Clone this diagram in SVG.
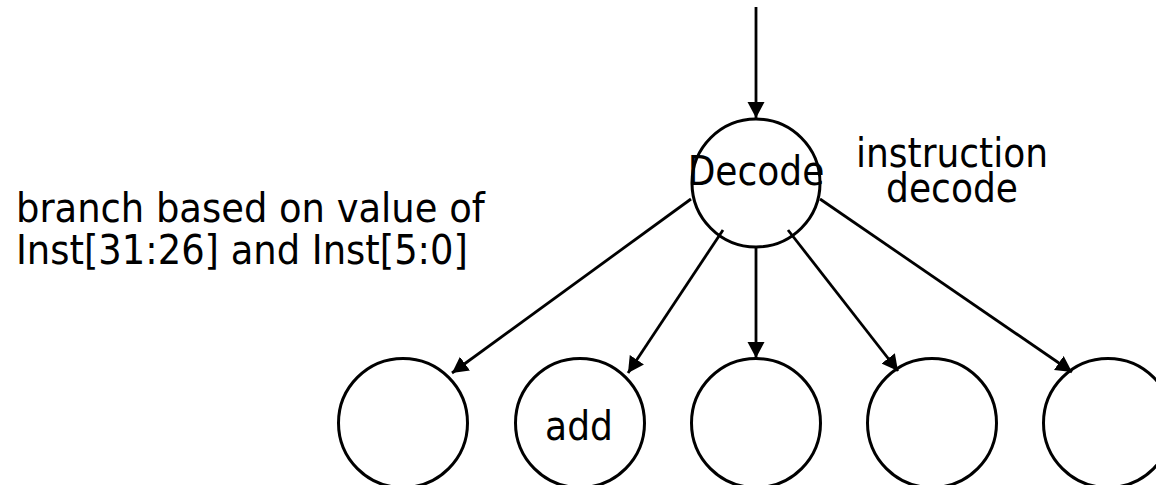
<svg xmlns="http://www.w3.org/2000/svg" width="1156" height="485" viewBox="0 0 1156 485">
<defs>
<style>
.node{fill:#fff;stroke:#000;stroke-width:3}
.edge{stroke:#000;stroke-width:2.8;fill:none;marker-end:url(#ah)}
.t{font-family:"DejaVu Sans Condensed","DejaVu Sans",sans-serif;font-stretch:condensed;font-size:40px;fill:#000}
.c{text-anchor:middle}
.big{font-size:41px}
</style>
<marker id="ah" markerUnits="userSpaceOnUse" markerWidth="18" markerHeight="18" refX="16" refY="8.5" orient="auto">
<path d="M0,0 L16,8.5 L0,17 z" fill="#000"/>
</marker>
</defs>
<rect width="1156" height="485" fill="#fff"/>
<g id="decode">
<circle class="node" cx="756" cy="183" r="64"/>
<text class="t c" x="756" y="185">Decode</text>
</g>
<g id="n1"><circle class="node" cx="403" cy="423" r="64.5"/></g>
<g id="n2"><circle class="node" cx="580" cy="423" r="64.5"/><text class="t c" x="579" y="440">add</text></g>
<g id="n3"><circle class="node" cx="756" cy="423" r="64.5"/></g>
<g id="n4"><circle class="node" cx="932" cy="423" r="64.5"/></g>
<g id="n5"><circle class="node" cx="1108" cy="423" r="64.5"/></g>
<g id="connectors">
<line class="edge" x1="756" y1="7" x2="756" y2="118"/>
<line class="edge" x1="691" y1="199" x2="452" y2="373"/>
<line class="edge" x1="723" y1="230" x2="628" y2="373"/>
<line class="edge" x1="756" y1="247" x2="756" y2="358"/>
<line class="edge" x1="788" y1="230" x2="898" y2="371"/>
<line class="edge" x1="820" y1="199" x2="1072" y2="372"/>
</g>
<g id="labels">
<text class="t c" x="952" y="167">instruction</text>
<text class="t c" x="952" y="202">decode</text>
<text class="t big" x="16" y="222">branch based on value of</text>
<text class="t big" x="16" y="264">Inst[31:26] and Inst[5:0]</text>
</g>
</svg>
